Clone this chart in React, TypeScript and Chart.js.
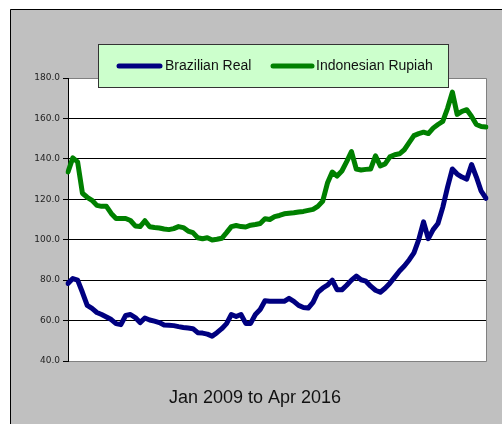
import React, { useEffect, useRef } from "react";
import { Chart, registerables } from "chart.js";

Chart.register(...registerables);

const months: string[] = [];
const monthNames = ["Jan","Feb","Mar","Apr","May","Jun","Jul","Aug","Sep","Oct","Nov","Dec"];
for (let y = 2009; y <= 2016; y++) {
  for (let m = 0; m < 12; m++) {
    if (y === 2016 && m > 3) break;
    months.push(`${monthNames[m]} ${y}`);
  }
}

const brazilianReal = [
  78.4, 80.8, 80, 74, 67.5, 66, 64, 63, 61.8, 60.5, 58.5, 58,
  62.5, 63, 61.5, 59, 61.3, 60.3, 59.7, 59, 57.8, 57.7, 57.5, 57,
  56.6, 56.3, 56, 54, 53.8, 53.3, 52.3, 54, 56, 58.5, 63, 62,
  63, 58.6, 58.6, 63, 65.5, 69.8, 69.6, 69.5, 69.5, 69.5, 71, 69.5,
  67.5, 66.5, 66.2, 69, 74, 76, 77.5, 80, 75.3, 75.2, 77.5, 80,
  82, 80.2, 79.5, 77, 75, 74, 76, 78.5, 81.5, 84.5, 87, 90,
  93.5, 100, 108.8, 100.5, 105, 108, 116, 126, 135, 132.5, 131, 130,
  137.2, 131, 124, 120.5,
];

const indonesianRupiah = [
  133.5, 140.5, 138.5, 123, 121, 119.5, 117, 116.5, 116.5, 113, 110.5, 110.5,
  110.5, 109.5, 106.8, 106.5, 109.4, 106.4, 106, 105.8, 105.3, 105, 105.5, 106.5,
  106, 104.3, 103.5, 101, 100.5, 101, 99.9, 100.2, 100.7, 103.5, 106.5, 107,
  106.5, 106.3, 107.2, 107.5, 108, 110.4, 110, 111.4, 112, 112.8, 113.1, 113.3,
  113.7, 114, 114.5, 115, 116.5, 119, 128, 133.5, 131.5, 134, 138.6, 143.6,
  135, 134.5, 134.8, 135, 141.5, 136.5, 137.5, 141, 142, 142.5, 144.5, 148,
  151.5, 152.5, 153.2, 152.5, 155.2, 157, 158.5, 165, 173, 162, 163.5, 164.3,
  161, 157, 156, 155.8,
];

const seriesNames = ["Brazilian Real", "Indonesian Rupiah"];
const seriesColors = ["#000080", "#008000"];
const axisTitle = "Jan 2009 to Apr 2016";
const yMin = 40;
const yMax = 180;
const yStep = 20;

const decorPlugin = {
  id: "decor",
  beforeDraw(chart: any) {
    const { ctx, width, height, chartArea } = chart;
    ctx.save();
    ctx.fillStyle = "#ffffff";
    ctx.fillRect(0, 0, width, height);
    ctx.fillStyle = "#c0c0c0";
    ctx.fillRect(10, 9, width - 10, height - 9);
    ctx.strokeStyle = "#000000";
    ctx.lineWidth = 1;
    ctx.beginPath();
    ctx.moveTo(10.5, height);
    ctx.lineTo(10.5, 9.5);
    ctx.lineTo(width, 9.5);
    ctx.stroke();
    ctx.fillStyle = "#ffffff";
    ctx.fillRect(chartArea.left, chartArea.top, chartArea.right - chartArea.left, chartArea.bottom - chartArea.top);
    ctx.restore();
  },
  beforeDatasetsDraw(chart: any) {
    const { ctx, chartArea } = chart;
    ctx.save();
    ctx.strokeStyle = "#808080";
    ctx.lineWidth = 1;
    ctx.beginPath();
    ctx.moveTo(chartArea.left, Math.round(chartArea.top) + 0.5);
    ctx.lineTo(Math.round(chartArea.right) + 0.5, Math.round(chartArea.top) + 0.5);
    ctx.lineTo(Math.round(chartArea.right) + 0.5, Math.round(chartArea.bottom) + 0.5);
    ctx.lineTo(chartArea.left, Math.round(chartArea.bottom) + 0.5);
    ctx.stroke();
    ctx.strokeStyle = "#000000";
    ctx.beginPath();
    ctx.moveTo(Math.round(chartArea.left) + 0.5, chartArea.top);
    ctx.lineTo(Math.round(chartArea.left) + 0.5, chartArea.bottom + 1);
    ctx.stroke();
    ctx.restore();
  },
  afterDraw(chart: any) {
    const { ctx } = chart;
    ctx.save();
    // legend box
    ctx.fillStyle = "#ccffcc";
    ctx.fillRect(98.5, 44.5, 350, 43);
    ctx.strokeStyle = "#333333";
    ctx.lineWidth = 1;
    ctx.strokeRect(98.5, 44.5, 350, 43);
    const items = [
      { x0: 119, x1: 160, tx: 165 },
      { x0: 273, x1: 312, tx: 316 },
    ];
    chart.data.datasets.forEach((ds: any, i: number) => {
      const it = items[i];
      ctx.strokeStyle = ds.borderColor;
      ctx.lineWidth = 5;
      ctx.lineCap = "round";
      ctx.beginPath();
      ctx.moveTo(it.x0, 66);
      ctx.lineTo(it.x1, 66);
      ctx.stroke();
      ctx.fillStyle = "#111111";
      ctx.font = "14px 'Liberation Sans', Arial, sans-serif";
      ctx.textBaseline = "middle";
      ctx.textAlign = "left";
      ctx.fillText(ds.label, it.tx, 66.5);
    });
    // x axis caption
    ctx.fillStyle = "#111111";
    ctx.font = "18px 'Liberation Sans', Arial, sans-serif";
    ctx.textAlign = "center";
    ctx.textBaseline = "alphabetic";
    ctx.fillText(axisTitle, 255, 403);
    ctx.restore();
  },
};

export default function App() {
  const ref = useRef<HTMLCanvasElement | null>(null);
  useEffect(() => {
    if (!ref.current) return;
    const chart = new Chart(ref.current, {
      type: "line",
      data: {
        labels: months,
        datasets: [
          {
            label: seriesNames[0],
            data: brazilianReal,
            borderColor: seriesColors[0],
            backgroundColor: seriesColors[0],
            borderWidth: 5,
            pointRadius: 0,
            tension: 0,
            borderJoinStyle: "round",
            borderCapStyle: "round",
          },
          {
            label: seriesNames[1],
            data: indonesianRupiah,
            borderColor: seriesColors[1],
            backgroundColor: seriesColors[1],
            borderWidth: 5,
            pointRadius: 0,
            tension: 0,
            borderJoinStyle: "round",
            borderCapStyle: "round",
          },
        ],
      },
      options: {
        animation: false,
        responsive: false,
        maintainAspectRatio: false,
        devicePixelRatio: 1,
        layout: { padding: { left: 0, top: 78, right: 16, bottom: 63 } },
        plugins: {
          legend: { display: false },
          tooltip: { enabled: false },
          title: { display: false },
        },
        scales: {
          x: {
            type: "category",
            display: false,
            offset: false,
          },
          y: {
            min: yMin,
            max: yMax,
            afterFit: (scale: any) => {
              scale.width = 68;
            },
            ticks: {
              stepSize: yStep,
              padding: 3,
              color: "#222222",
              font: { family: "'DejaVu Sans', sans-serif", size: 9 },
              callback: (v: any) => Number(v).toFixed(1),
            },
            grid: {
              color: "#000000",
              lineWidth: 1,
              tickLength: 5,
              drawTicks: true,
            },
            border: { display: true, color: "#000000" },
          },
        },
      },
      plugins: [decorPlugin],
    });
    return () => chart.destroy();
  }, []);
  return (
    <div style={{ position: "fixed", left: 0, top: 0, width: 502, height: 424 }}>
      <canvas ref={ref} width={502} height={424} style={{ width: 502, height: 424, display: "block" }} />
    </div>
  );
}
